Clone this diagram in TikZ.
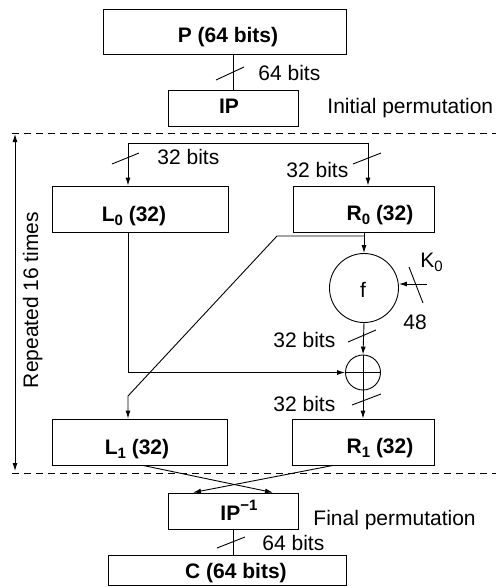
\documentclass[tikz,border=0pt]{standalone}
\usepackage{fontspec}
\setmainfont{Liberation Sans}
\usetikzlibrary{arrows.meta}
\newcommand\mysubs[1]{\raisebox{-0.4ex}{\fontsize{15}{15}\selectfont #1}}
\newcommand\mysups[1]{\raisebox{0.9ex}{\fontsize{15}{15}\selectfont #1}}
\begin{document}
\begin{tikzpicture}[x=1pt,y=-1pt,
  line width=0.9pt,
  box/.style={draw, rectangle, inner sep=0pt},
  lbl/.style={inner sep=0pt, font=\fontsize{21}{25}\selectfont},
  blbl/.style={inner sep=0pt, font=\fontsize{21}{25}\selectfont\bfseries},
  arr/.style={-{Latex[length=8pt,width=5pt]}},
  dashsep/.style={dash pattern=on 7pt off 5pt},
]
\useasboundingbox (0,0) rectangle (496,587);

% boxes
\node[box, minimum width=243pt, minimum height=45pt] (P) at (224.5,31.5) {};
\node[box, minimum width=130pt, minimum height=36pt] (IP) at (233,108) {};
\node[box, minimum width=176pt, minimum height=46pt] (L0) at (140,209) {};
\node[box, minimum width=141pt, minimum height=46pt] (R0) at (363.5,209) {};
\node[box, minimum width=175pt, minimum height=46pt] (L1) at (139.5,442) {};
\node[box, minimum width=142pt, minimum height=46pt] (R1) at (363,442) {};
\node[box, minimum width=130pt, minimum height=36pt] (IPinv) at (233,511) {};
\node[box, minimum width=238pt, minimum height=30pt] (C) at (227,570) {};
\node[draw, circle, inner sep=0pt, minimum size=69pt] (f) at (364,288) {};
\node[draw, circle, inner sep=0pt, minimum size=35pt] (xor) at (363,372.5) {};
\draw (xor.north) -- (xor.south);
\draw (xor.west) -- (xor.east);

% texts
\node[blbl, anchor=base] (Pt) at (228,42) {P (64 bits)};
\node[lbl, anchor=base west] (b64a) at (258,80) {64 bits};
\node[blbl, anchor=base] (IPt) at (229,113) {IP};
\node[lbl, anchor=base west] (init) at (327,113) {Initial permutation};
\node[lbl, anchor=base west] (b32a) at (157,164) {32 bits};
\node[lbl, anchor=base west] (b32b) at (286,177) {32 bits};
\node[blbl, anchor=base] (L0t) at (134,221) {L\mysubs{0} (32)};
\node[blbl, anchor=base] (R0t) at (380,220) {R\mysubs{0} (32)};
\node[lbl, anchor=base] (ft) at (363,297) {f};
\node[lbl, anchor=base west] (K0t) at (420,267) {K\mysubs{0}};
\node[lbl, anchor=base west] (b48) at (403,329) {48};
\node[lbl, anchor=base west] (b32c) at (273,347) {32 bits};
\node[lbl, anchor=base west] (b32d) at (273,411) {32 bits};
\node[blbl, anchor=base] (L1t) at (137,454) {L\mysubs{1} (32)};
\node[blbl, anchor=base] (R1t) at (380,453) {R\mysubs{1} (32)};
\node[blbl, anchor=base west] (IPit) at (220,520) {IP\mysups{−1}};
\node[lbl, anchor=base west] (fin) at (313,525) {Final permutation};
\node[lbl, anchor=base west] (b64b) at (262,550) {64 bits};
\node[blbl, anchor=base] (Ct) at (236,578) {C (64 bits)};
\node[lbl, rotate=90, anchor=base] (rep) at (38,300) {Repeated 16 times};

% dashed separators and repeat arrow
\coordinate (d1a) at (12,133); \coordinate (d1b) at (496,133);
\coordinate (d2a) at (12,473); \coordinate (d2b) at (496,473);
\draw[dashsep] (d1a) -- (d1b);
\draw[dashsep] (d2a) -- (d2b);
\coordinate (rt) at (15,134); \coordinate (rb) at (15,471);
\draw[{Latex[length=8pt,width=5pt]}-{Latex[length=8pt,width=5pt]}] (rt) -- (rb);

% connectors
\draw (IP.north |- P.south) -- (IP.north);
\draw (216,80) -- (244,67);

\coordinate (sL) at (128,143);
\coordinate (sR) at (368,143);
\draw (sL) -- (sR);
\draw[arr] (sL) -- (sL |- L0.north);
\draw[arr] (sR) -- (sR |- R0.north);
\draw (112,164) -- (139,153);
\draw (353,164) -- (381,153);

\draw[arr] (R0.south -| f.north) -- (f.north);
\coordinate (b1) at (364,236);
\coordinate (b2) at (277,236);
\coordinate (b3) at (128,396);
\draw[arr] (b1) -- (b2) -- (b3) -- (b3 |- L1.north);

\draw[arr] (L0.south -| b3) -- (b3 |- xor.west) -- (xor.west);

\coordinate (Kin) at (427,284);
\draw[arr] (Kin) -- (Kin -| f.east);
\draw (409,267) -- (423,303);

\draw[arr] (f.south) -- (xor.north);
\draw (348,342) -- (376,330);
\draw[arr] (xor.south) -- (xor.south |- R1.north);
\draw (352,405) -- (381,394);

\draw[arr] ([xshift=3.5pt]L1.south) -- ([xshift=40pt]IPinv.north);
\draw[arr] ([xshift=-30pt]R1.south) -- ([xshift=-40pt]IPinv.north);

\draw (IPinv.south) -- (IPinv.south |- C.north);
\draw (217,548) -- (245,537);
\end{tikzpicture}
\end{document}
